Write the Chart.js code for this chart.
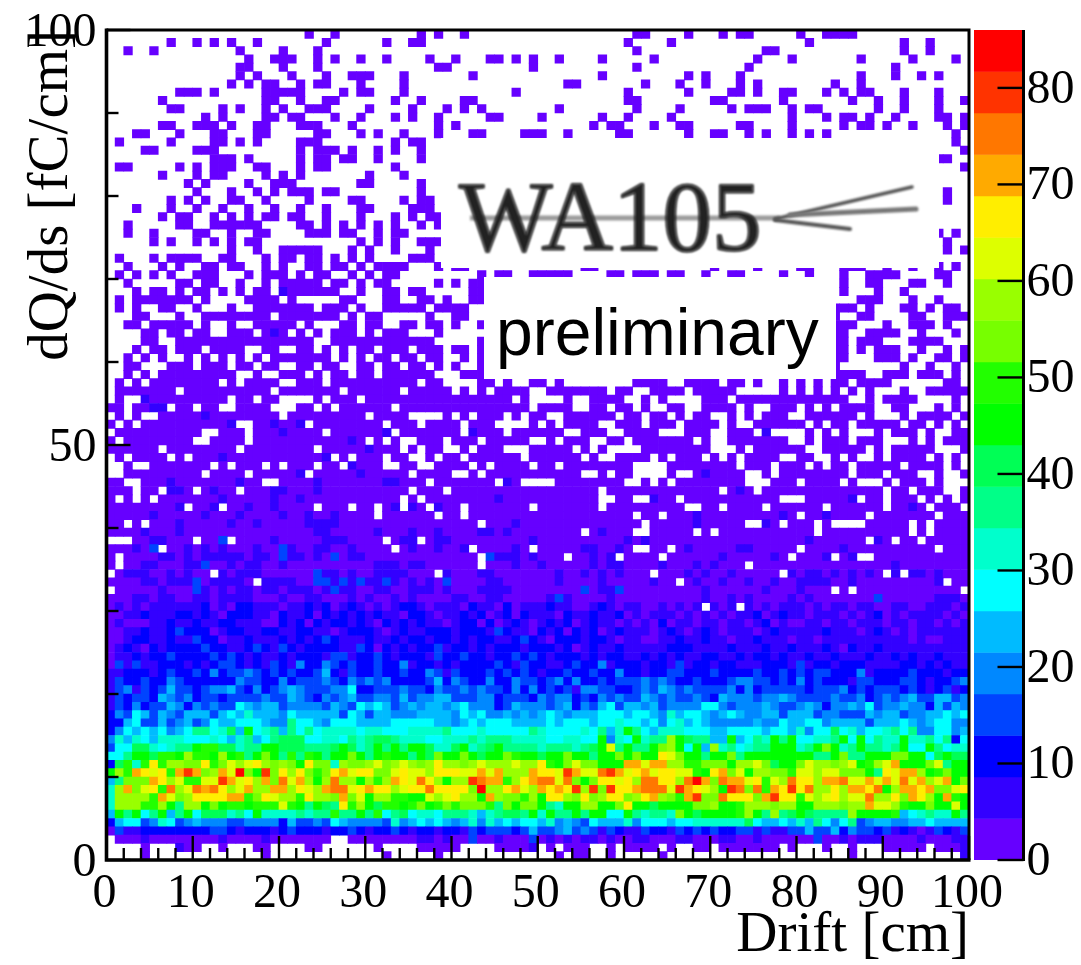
<!DOCTYPE html>
<html><head><meta charset="utf-8">
<style>html,body{margin:0;padding:0;background:#fff;overflow:hidden}canvas{position:absolute;left:0;top:0}</style>
<script src="https://cdn.jsdelivr.net/npm/chart.js@4"></script>
</head><body>
<canvas id="map" width="1081" height="965"></canvas>
<canvas id="bar" width="1081" height="965"></canvas>
<script>
const xTitle='Drift [cm]', yTitle='dQ/ds [fC/cm]', logoText='WA105', stampText='preliminary';
const zMax=86, zLevels=20;
const levelColors=['#6600ff','#3300ff','#0000ff','#0044ff','#0088ff','#00bbff','#00ffff','#00ffcc','#00ff88','#00ff55','#00ff00','#22ff00','#77ff00','#99ff00','#ddff00','#ffee00','#ffaa00','#ff7700','#ff3300','#ff0000'];
// rows counted from the top of the plot; each holds the occupied bins of a sparse row
const sparseFilled=[
[23,26,36,38,41,61,62,67,71,73,74,80,83,84,85,86],
[7,10,12,14,17,25,32,35,36,60,65,81,92,95],
[2,5,15,20,24,61,76,77,92,95],
[16,19,20,21,24,26,29,32,37,40,44,45,47,49,52,57,63,75,79,87,93,98],
[15,16,20,24,38,39,49,61,74,91],
[15,17,21,25,28,29,30,34,42,57,67,69,73,87,91,94,96],
[14,16,18,19,22,24,25,29,34,53,54,62,66,69,73,75,84,87],
[8,9,10,12,18,19,20,21,22,27,29,30,34,47,60,67,72,73,75,78,79,83,85,87,88,92,96],
[6,18,19,22,25,26,33,36,41,42,60,61,70,71,78,86,89,92,96,99],
[7,8,13,15,18,20,23,24,25,30,35,39,41,43,52,61,66,72,74,75,76,79,81,82,89,92,96],
[11,13,18,19,21,22,26,29,33,35,38,44,45,50,57,60,65,79,83,85,86,88,91,96,97,99],
[6,7,10,11,12,14,17,18,22,23,24,28,38,40,56,58,59,63,66,67,73,74,79,85,87,88,90,93,97,99],
[3,4,8,12,13,17,18,24,25,29,31,34,38,42,43,48,49,50,53,59,60,67,70,71,74,76,79,81,83,98],
[1,7,12,13,15,17,22,23,24,33,35,36,98],
[4,5,10,11,12,22,24,25,26,28,31,33,36,99],
[12,13,14,16,22,24,25,27,28,31,36,96,97],
[1,2,8,10,12,13,14,17,18,22,24,25,33,99],
[6,10,12,13,18,20,22,30,34],
[9,11,16,19,20,21,29,30,36],
[10,14,17,19,21,22,23,25,26,36,97],
[7,9,11,14,15,18,23,28,29,34,36,37,97],
[3,7,10,13,16,19,22,25,29,30,35,36,37],
[6,8,9,12,14,16,18,19,21,22,25,29,33,35,37,38],
[2,8,9,12,13,14,15,16,17,22,23,25,27,29,31,33,36,38],
[2,5,10,11,14,17,18,23,24,25,27,28,31,33,34,96,98],
[5,7,10,12,14,16,17,29,31,33,36,37,38,97],
[14,17,20,21,22,23,24,28,30,33,37,97,99],
[1,5,7,8,9,10,13,14,18,20,21,23,24,26,28,30,35,36,37],
[2,6,8,11,12,14,15,18,20,23,24,26,27,29,31,32,33,34,38,40,41,55,56,70,75,80,81,85,86,87,90,93,96,98],
[1,3,5,7,10,11,12,16,18,19,20,22,24,25,28,30,32,33,43,45,46,49,50,51,52,53,58,59,61,62,63,65,66,69,72,73,78,81,85,88,89,90,91,96,97],
[2,8,9,11,12,15,18,20,21,22,23,24,26,27,29,31,32,38,40,42,43,85,88,89,93,94,97],
[3,5,6,8,10,11,13,15,17,18,20,21,22,23,24,25,26,29,32,33,35,36,42,43,85,89,92],
[1,3,4,5,6,7,8,9,11,16,17,18,19,21,27,28,32,33,36,37,39,42,43,87,88,89,93,96]
];
// rows 33-68: mostly occupied; these bins are empty
const midEmpty=[
[0,2,4,5,8,9,11,12,13,15,16,24,28,30,31,37,42,43,87,89,90,91,94,96,99],
[0,1,2,5,6,7,9,10,19,27,29,32,33,34,35,36,38,39,42,43,85,86,89,90,91,92,95,96],
[0,1,4,10,12,13,15,16,22,24,25,26,29,32,33,36,39,41,42,87,88,89,91,92,96,98,99],
[0,1,2,3,6,9,12,13,17,21,23,25,29,31,35,36,37,39,40,41,42,43,86,87,92,93,95,96,97,99],
[0,1,2,3,6,7,24,25,38,39,40,41,42,86,90,91,92,97,98,99],
[0,1,2,4,7,11,16,17,20,21,24,26,28,31,35,39,42,86,88,92,93,95,96,98],
[0,1,3,5,7,8,10,12,14,16,18,26,28,30,33,36,39,40,42,86,87,88,92,94,95,98],
[0,1,4,5,6,10,14,17,20,21,24,27,28,31,34,37,39,41,42,85,86,87,88,89,90,91,93,94,96,97,99],
[0,1,3,5,15,16,18,19,23,25,28,31,38,39,40,88,89,93,97,99],
[0,2,4,13,15,20,21,25,36,39,40,41,42,45,47,48,51,53,54,55,56,57,58,59,60,65,66,71,74,76,77,79,81,83,86,91,92,93,94,95,96,99],
[0,8,19,27,34,40,42,44,49,50,58,61,62,67,73,74,75,76,77,79,81,83,85,87,89,90,91,93,94],
[0,2,3,14,17,20,21,22,23,25,29,47,49,50,51,52,54,55,60,61,63,65,66,67,68,72,86,87,89,94,95,96,97,99],
[2,7,10,13,14,19,20,21,24,26,33,49,54,55,58,61,63,64,67,68,73,75,76,80,82,84,89,90,93,94,95,97,99],
[0,2,4,5,20,30,35,36,37,38,40,42,46,48,51,52,59,62,65,67,70,71,73,75,79,80,87,89,90,91,93,98],
[1,3,15,16,23,32,36,41,45,46,47,48,50,52,57,58,62,66,71,73,74,81,83,86,92,95,97,99],
[0,11,12,16,25,33,41,46,53,54,58,59,64,65,66,70,71,75,77,78,79,80,82,84,86,87,88,90,94,96,97],
[1,10,11,16,30,32,34,35,39,43,49,50,52,56,57,60,68,70,71,79,80,82,86,90,91,92,94,96],
[6,15,24,34,36,39,40,42,46,47,48,54,56,58,59,60,61,70,71,72,74,81,82,88,90,96,97,98],
[0,2,7,9,26,28,32,35,36,38,41,48,55,57,58,63,65,69,71,73,78,79,82,83,85,87,88,90,95,97,99],
[0,1,3,4,12,14,18,20,24,27,32,33,36,37,42,44,49,52,61,62,63,64,73,77,81,83,86,92,97,99],
[0,1,11,16,23,35,40,41,43,55,56,58,61,62,63,64,66,67,74,75,77,86,90,94,95,97,98],
[2,3,18,19,37,45,48,49,50,51,60,61,63,65,74,75,76,80,85,87,88,89,91,95,97,98,99],
[3,6,10,15,35,39,57,71,75,90,93,97,98],
[1,3,5,34,36,57,58,61,62,66,78,79,80,87,90,94,96,98],
[9,13,24,28,31,34,37,41,49,57,67,68,71,76,83,90,95,99],
[31,38,41,61,64,80,88,96],
[2,4,43,62,74,75,78,82,84,85,86,87,93,95],
[55,61,62,68,70,82,93,95],
[0,1,2,10,14,32,36,88,91,94],
[6,33,42,49,61,62,65,80,96],
[1,43,53,59,64,79,84,87,88],
[1,43,74],
[0,12,38,63,78,90,92],
[17,66,97],
[0,84,86,99],
[]
];
// rows 33-68: bins one colour step above the lowest
const midSecondLevel=[
[],[],[],[19],[],[],[],[],[],[],[],[4],[5,6],[11],[14,19,22],[20,32,42,76],[28],[30],[13,25],[28],[22,29,69],
[7,15,24,32,33,46],[7,8,12,19,20,24,73],[13,19,22,45,63,86],[8,12,16,19,33,35,38,93],[5,11,15,20,23,26,68,78,83],
[8,14,17,23,24,25,26,47,68,76],[4,8,24,25,31,35,38,43,44,46,57],[5,6,19,25,26,27,34,35,38,39,49,60,62,81,89],
[3,9,11,13,17,21,24,25,28,35,38,41,47,55,56,59,67,73,74,85],
[6,7,9,11,12,13,14,15,17,18,21,22,24,28,29,45,46,47,49,56,58,71,77,83,86],
[4,5,9,10,14,16,17,20,31,32,33,35,36,47,50,56,58,59,64,68,70,91],
[2,3,4,7,9,13,15,16,17,25,26,28,31,32,33,34,39,43,44,52,55,57,59,67,69,72,79,81,82,84,86,88,91,93,94,96],
[4,5,7,8,9,12,13,14,15,18,19,20,21,26,28,30,31,33,35,37,44,45,52,57,63,68,71,74,77,80,81,82,83,86,96],
[6,11,13,15,16,18,19,21,22,23,25,27,28,31,32,35,36,37,39,43,44,45,46,57,58,69,76,80],
[3,4,6,7,10,11,13,14,15,16,20,23,24,28,30,33,35,40,41,44,45,51,53,58,69,72,74,79,81,96,97,98]
];
// [row, bin, colour step] for isolated brighter bins of the upper part
const brightBins=[[31,20,1],[61,13,3],[62,5,3],[62,20,3],[63,20,3],[63,26,3],[63,44,3],[64,11,3],[65,24,3],[66,10,3],[66,24,3],[66,25,3],[66,27,3],[66,29,3],[66,32,3],[66,39,3],[67,10,3],[67,26,3],[67,55,3],[67,59,3],[68,52,3],[68,89,3]];
// rows 69-99, one character per bin: '.' empty, 0-9 a-j colour step
const denseRows=[
"0101011111 1201022111 0112120121 0101221011 1021102011 1211001210 110010101. 101.101011 1010110110 0110011101",
"0011211122 1210222110 2112021212 1211022101 1212012021 1102112112 0101110101 0101120121 1011101012 0101111010",
"0100011211 2112211100 2120212212 1021212110 1220201210 1212012110 1010201101 1011012010 0110110111 0110110101",
"0011211232 2201221122 1122110122 2101211222 1222132110 2120212012 1110121012 1011101211 1112111012 1010111111",
"0012211211 3220112111 2121232111 2112122122 1212211232 1022212210 1100112112 1101121110 1101111111 1110100111",
"0121021222 2322112321 3212222113 2021212231 2212122212 2212012112 1111122211 1121112112 1112102112 1111111111",
"0112122322 2232321211 2122213312 2321222132 2322122323 2122212122 1121212112 2112122121 1211211121 1212112111",
"0313112221 2123321213 2142243232 2322412212 1222232132 2112322412 2212213122 1221112221 3122122211 1122121211",
"1122212322 3242334323 2322352132 2322322431 3222323232 1223223224 2212233222 3222232232 3233222412 2223222122",
"1322322432 2222243322 4233343243 4342222352 4322422433 2342422323 3343432232 2234433232 4232221332 2233212234",
"1341323533 2344532423 4543334462 2333433243 3434332424 2323144332 2343543433 3342423333 3233342323 3323212312",
"1323325434 2332333343 3543243453 3443534455 3334423332 4344232434 3354343343 2544434454 3333433423 4345335534",
"1324233542 4343365455 3444435436 5653454554 5644423544 4345243563 5545344446 6434445433 4542445463 4454425354",
"2436535435 5535657555 4655555365 3554445555 4656445454 5654555666 5665475665 4565445535 5534433354 5534455656",
"2256335345 3465566654 4866546665 5556666655 4565666555 5656665667 6656467565 4444454465 5664555535 5565456644",
"2465656456 886795a678 5868677776 7766677778 6667666668 7666676857 a865777666 5566665665 7466967566 7868446645",
"4757657776 6676578568 9996677687 8998777667 7787888777 7667766a47 6a788da988 55a5687a8a 66778a6a68 77a7786826",
"3669976788 abb99788aa 9998889a97 8a8a8aa977 9a789a8888 7888789ae8 a88acda6a5 d786788aaa 78aca78a88 78a66a8677",
"668aa9bbad bbadab8aca 8b8ba8aaca 8abaa8a9ca aca9aacbaa 9aacaa8aac acaafecaa8 aac8aaaaaa aa88ac88aa accaa69a99",
"29b7bfbddc cfbcedefdc dcafcc7dcc decdedcdfd dcdedddedd fbaceccaaa ggeggddbbc ccaddec9aa ceddcdeabd egaaace8aa",
"adbgfefbgi gcdgejcaic fdfcbcfgef fccefeedff feegegdddg ffeigeehig efgeffeeba fgceaddccb eedeeccca8 feggdabcaa",
"58cccgfdeb beeigefdgc hegdadhdda dbdgfehfda ddihggbdfg hhehcacffe fdhhffdhjg chggefbedh ffdggheege gehegdegac",
"7dgcefbhde hghfdegddg gdfedghhef gffdeffhff ffcjddfged gfgfidicif fghhheigfe daihchbgfi fhddfdggfh adggfgccef",
"7ddddbgecd ffffggbcfe ddbfddcgce addbbaaede fddagdccbd affdcfcdff cdfgdcbgic chfffcgiff bedefdeehd dfcgfdagba",
"7dddbbda8d dacabbabbb eba8a98fbd a9bbabcabc bcccb8cacc a87aaddaac faa9aaaacc daabdddcdd aadddcddge edbaacaaea",
"5a8a68a58a 6999786a77 778788b88a 8b68967768 887578998a 7a88a8aa66 a87887ca9a aaabda8d89 a98888daaa ab567877a8",
"2566347634 5444334444 2533436544 4437456565 4574756566 5745436555 7466656677 7777965565 7586468345 5445565555",
"0311222222 2233212221 2322212232 1223212212 2132333235 3345343132 1132213232 3223313113 3533524332 3121013213",
".000100000 0001000010 000000..00 0000001101 0030010003 0101011010 0110001100 0110010000 0030010111 0000100011",
"....0...10 0..0...00. ...00..... .0....0000 0....00001 .0.000..0. 0000.0..00 .0000000.0 ...0..0... 00000.0001",
"....0..... ........0. .......... ..0.....0. .......... ..0.00..0. ....0..... .......... ......0... .........1"
];
const xTicks={min:0,max:100,major:10,minor:2};
const yTicks={min:0,max:100,major:50,minor:10};

const stepValue=s=>(s+0.5)*zMax/zLevels;
const colorOf=v=>levelColors[Math.min(zLevels-1,Math.floor(v/(zMax/zLevels)))];
const cellPoints=[],cellColors=[];
function addCell(row,bin,step){
  const v=stepValue(step);
  cellPoints.push({x:bin+0.5,y:[99-row,100-row],v});
  cellColors.push(colorOf(v));
}
const grid=[];
sparseFilled.forEach((bins,r)=>{const g=new Array(100).fill(-1);bins.forEach(b=>g[b]=0);grid[r]=g;});
midEmpty.forEach((bins,i)=>{const g=new Array(100).fill(0);bins.forEach(b=>g[b]=-1);midSecondLevel[i].forEach(b=>g[b]=1);grid[33+i]=g;});
brightBins.forEach(([r,b,s])=>grid[r][b]=s);
denseRows.forEach((txt,i)=>{
  const t=txt.replace(/ /g,'');const g=new Array(100).fill(-1);
  for(let c=0;c<100&&c<t.length;c++){ if(t[c]!=='.') g[c]=parseInt(t[c],20); }
  grid[69+i]=g;
});
grid.forEach((g,r)=>g.forEach((s,b)=>{if(s>=0)addCell(r,b,s);}));

const serif='"Liberation Serif"', sans='"Liberation Sans"';
const ink='#000';
const PLOT={l:106.5,r:969,t:30,b:860};
const noAxisPad=s=>{s.paddingTop=0;s.paddingBottom=0;s.paddingLeft=0;s.paddingRight=0;};

const framePlugin={id:'frame',afterDatasetsDraw(ch){
  const c=ch.ctx,x=ch.scales.x,y=ch.scales.y,a=ch.chartArea;
  c.save();c.strokeStyle=ink;
  c.lineWidth=2.4;
  for(let v=xTicks.min;v<=xTicks.max;v+=xTicks.minor){
    const len=v%xTicks.major===0?24:12,p=x.getPixelForValue(v);
    c.beginPath();c.moveTo(p,a.bottom);c.lineTo(p,a.bottom-len);c.stroke();
  }
  for(let v=yTicks.min;v<=yTicks.max;v+=yTicks.minor){
    const len=v%yTicks.major===0?24:12,p=y.getPixelForValue(v);
    c.beginPath();c.moveTo(a.left,p);c.lineTo(a.left+len,p);c.stroke();
  }
  // white cover boxes
  c.fillStyle='#fff';
  c.fillRect(441,138,498,130);
  c.fillRect(484,277,352,102);
  // logo
  c.save();
  c.filter='blur(1px)';
  c.strokeStyle='#9a9a9a';c.lineWidth=5;
  c.beginPath();c.moveTo(470,218);c.lineTo(780,218);c.stroke();
  c.fillStyle='#222';c.strokeStyle='#222';c.lineWidth=1.5;
  c.font='99px '+serif;c.textBaseline='alphabetic';c.textAlign='left';
  c.fillText(logoText,459,250);c.strokeText(logoText,459,250);
  c.strokeStyle='#555';c.lineCap='round';
  c.lineWidth=4;c.beginPath();c.moveTo(775,220);c.lineTo(850,229);c.stroke();
  c.lineWidth=3.5;c.beginPath();c.moveTo(775,219);c.lineTo(912,187);c.stroke();
  c.strokeStyle='#777';c.lineWidth=5;c.beginPath();c.moveTo(790,215);c.lineTo(916,209);c.stroke();
  c.restore();
  // stamp
  c.fillStyle='#000';c.font='66px '+sans;c.textBaseline='alphabetic';c.textAlign='left';
  c.fillText(stampText,496,355);
  // frame
  c.lineWidth=3;c.strokeStyle=ink;
  c.beginPath();c.moveTo(a.left,a.top);c.lineTo(a.right,a.top);c.lineTo(a.right,a.bottom);c.stroke();
  c.lineWidth=3.6;
  c.beginPath();c.moveTo(a.left,a.top-1.5);c.lineTo(a.left,a.bottom);c.lineTo(a.right+1.5,a.bottom);c.stroke();
  c.restore();
}};

new Chart(document.getElementById('map'),{
  type:'bar',
  data:{datasets:[{data:cellPoints,backgroundColor:cellColors,borderWidth:0,barPercentage:1,categoryPercentage:1}]},
  plugins:[framePlugin],
  options:{
    responsive:false,animation:false,events:[],
    layout:{padding:{top:PLOT.t,right:1081-PLOT.r,left:0,bottom:0}},
    plugins:{legend:{display:false},tooltip:{enabled:false},title:{display:false}},
    scales:{
      x:{type:'linear',offset:false,min:xTicks.min,max:xTicks.max,
        afterFit(s){s.height=965-PLOT.b;noAxisPad(s);},
        grid:{display:false,drawTicks:false,offset:false},border:{display:false},
        ticks:{stepSize:xTicks.major,autoSkip:false,maxRotation:0,color:'#000',padding:6,labelOffset:-2,font:{family:serif,size:48}},
        title:{display:true,text:xTitle,align:'end',color:'#000',font:{family:serif,size:57,lineHeight:1},padding:{top:0,bottom:0}}},
      y:{type:'linear',min:yTicks.min,max:yTicks.max,
        afterFit(s){s.width=PLOT.l;noAxisPad(s);},
        grid:{display:false,drawTicks:false},border:{display:false},
        ticks:{stepSize:yTicks.major,autoSkip:false,color:'#000',padding:10,labelOffset:3,font:{family:serif,size:48}},
        title:{display:true,text:yTitle,align:'end',color:'#000',font:{family:serif,size:57,lineHeight:1},padding:{top:24,bottom:0}}}
    }
  }
});

// colour bar
const barSteps=levelColors.map((_,i)=>({x:'z',y:[i*zMax/zLevels,(i+1)*zMax/zLevels]}));
const barAxisPlugin={id:'baraxis',afterDatasetsDraw(ch){
  const c=ch.ctx,y=ch.scales.y,a=ch.chartArea;
  c.save();c.strokeStyle=ink;c.lineWidth=2.4;
  for(let v=0;v<=80;v+=10){const p=y.getPixelForValue(v);c.beginPath();c.moveTo(a.right-26,p);c.lineTo(a.right,p);c.stroke();}
  c.lineWidth=3;c.beginPath();c.moveTo(a.right,a.top);c.lineTo(a.right,a.bottom+1);c.stroke();
  c.restore();
}};
new Chart(document.getElementById('bar'),{
  type:'bar',
  data:{labels:['z'],datasets:[{data:barSteps,backgroundColor:levelColors,borderWidth:0,barPercentage:1,categoryPercentage:1}]},
  plugins:[barAxisPlugin],
  options:{
    responsive:false,animation:false,events:[],
    layout:{padding:{top:PLOT.t,left:974,right:0,bottom:965-PLOT.b}},
    plugins:{legend:{display:false},tooltip:{enabled:false}},
    scales:{
      x:{type:'category',display:false},
      y:{type:'linear',position:'right',min:0,max:zMax,
        afterFit(s){s.width=1081-1023.5;noAxisPad(s);},
        grid:{display:false,drawTicks:false},border:{display:false},
        ticks:{stepSize:10,includeBounds:false,autoSkip:false,color:'#000',padding:3,labelOffset:2,font:{family:serif,size:48}}}
    }
  }
});
</script>
</body></html>
